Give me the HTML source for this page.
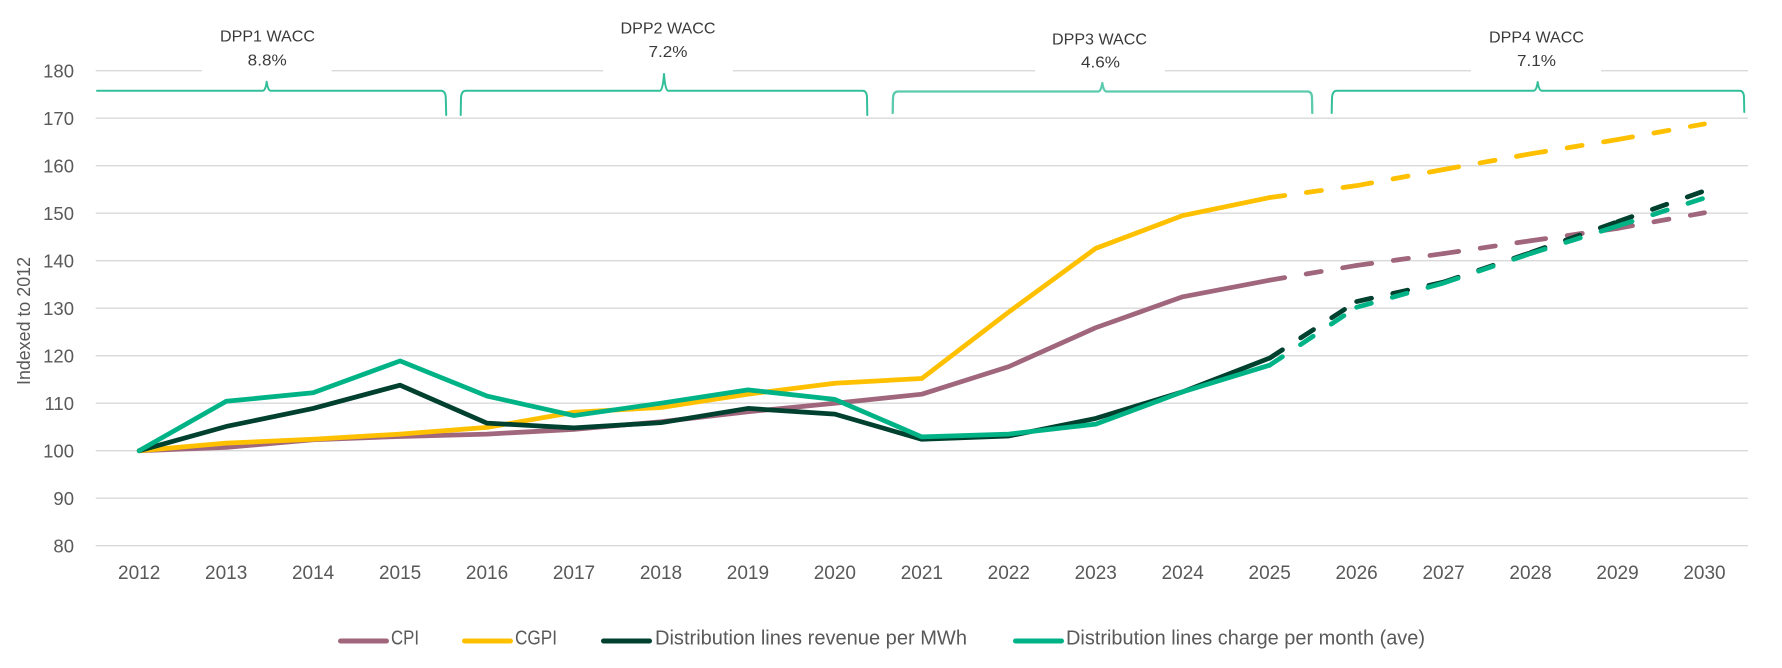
<!DOCTYPE html>
<html>
<head>
<meta charset="utf-8">
<style>
  html, body { margin:0; padding:0; background:#ffffff; }
  svg { display:block; }
  text { font-family: "Liberation Sans", Arial, sans-serif; }
</style>
</head>
<body>
<svg width="1782" height="668" viewBox="0 0 1782 668" xmlns="http://www.w3.org/2000/svg">
  <rect x="0" y="0" width="1782" height="668" fill="#ffffff"/>

  <!-- gridlines -->
  <g stroke="#d9d9d9" stroke-width="1.4" fill="none">
    <line x1="95.7" y1="70.7" x2="1748" y2="70.7"/>
    <line x1="95.7" y1="118.2" x2="1748" y2="118.2"/>
    <line x1="95.7" y1="165.7" x2="1748" y2="165.7"/>
    <line x1="95.7" y1="213.2" x2="1748" y2="213.2"/>
    <line x1="95.7" y1="260.7" x2="1748" y2="260.7"/>
    <line x1="95.7" y1="308.2" x2="1748" y2="308.2"/>
    <line x1="95.7" y1="355.7" x2="1748" y2="355.7"/>
    <line x1="95.7" y1="403.2" x2="1748" y2="403.2"/>
    <line x1="95.7" y1="450.7" x2="1748" y2="450.7"/>
    <line x1="95.7" y1="498.2" x2="1748" y2="498.2"/>
    <line x1="95.7" y1="545.7" x2="1748" y2="545.7"/>
  </g>

  <!-- y labels -->
  <g fill="#595959" font-size="18.5" text-anchor="end">
    <text x="74" y="77.3">180</text>
    <text x="74" y="124.8">170</text>
    <text x="74" y="172.3">160</text>
    <text x="74" y="219.8">150</text>
    <text x="74" y="267.3">140</text>
    <text x="74" y="314.8">130</text>
    <text x="74" y="362.3">120</text>
    <text x="74" y="409.8">110</text>
    <text x="74" y="457.3">100</text>
    <text x="74" y="504.8">90</text>
    <text x="74" y="552.3">80</text>
  </g>

  <!-- y axis title -->
  <text transform="translate(30,385) rotate(-90)" fill="#595959" font-size="18.5" textLength="128" lengthAdjust="spacingAndGlyphs">Indexed to 2012</text>

  <!-- x labels -->
  <g fill="#595959" font-size="19" text-anchor="middle">
    <text x="139.2" y="579">2012</text>
    <text x="226.16" y="579">2013</text>
    <text x="313.12" y="579">2014</text>
    <text x="400.08" y="579">2015</text>
    <text x="487.04" y="579">2016</text>
    <text x="574" y="579">2017</text>
    <text x="660.96" y="579">2018</text>
    <text x="747.92" y="579">2019</text>
    <text x="834.88" y="579">2020</text>
    <text x="921.84" y="579">2021</text>
    <text x="1008.8" y="579">2022</text>
    <text x="1095.76" y="579">2023</text>
    <text x="1182.72" y="579">2024</text>
    <text x="1269.68" y="579">2025</text>
    <text x="1356.64" y="579">2026</text>
    <text x="1443.6" y="579">2027</text>
    <text x="1530.56" y="579">2028</text>
    <text x="1617.52" y="579">2029</text>
    <text x="1704.48" y="579">2030</text>
  </g>

  <!-- label boxes over top gridline -->
  <g fill="#ffffff">
    <rect x="201.7" y="64" width="130" height="12"/>
    <rect x="603" y="64" width="130" height="12"/>
    <rect x="1035" y="64" width="130" height="12"/>
    <rect x="1471" y="64" width="130" height="12"/>
  </g>

  <!-- WACC labels -->
  <g fill="#3a3a3a" font-size="16" text-anchor="middle">
    <text x="267.5" y="41.7" textLength="95" lengthAdjust="spacingAndGlyphs">DPP1 WACC</text>
    <text x="267.2" y="65.5" textLength="39" lengthAdjust="spacingAndGlyphs">8.8%</text>
    <text x="668" y="33.3" textLength="95" lengthAdjust="spacingAndGlyphs">DPP2 WACC</text>
    <text x="668" y="57" textLength="39" lengthAdjust="spacingAndGlyphs">7.2%</text>
    <text x="1099.5" y="44.3" textLength="95" lengthAdjust="spacingAndGlyphs">DPP3 WACC</text>
    <text x="1100.5" y="67.5" textLength="39" lengthAdjust="spacingAndGlyphs">4.6%</text>
    <text x="1536.5" y="42.3" textLength="95" lengthAdjust="spacingAndGlyphs">DPP4 WACC</text>
    <text x="1536.5" y="66" textLength="39" lengthAdjust="spacingAndGlyphs">7.1%</text>
  </g>

  <!-- braces -->
  <g stroke="#33bf99" stroke-width="2" fill="none" stroke-linejoin="round" stroke-linecap="round">
    <path d="M 97 90.7 L 262.5 90.7 Q 265.5 90.7 266.7 81.7 Q 267.9 90.7 270.9 90.7 L 441 90.7 Q 445.5 90.7 445.8 98 L 446.2 115"/>
    <path d="M 460.7 115 L 461 98 Q 461.3 90.7 466 90.7 L 659.8 90.7 Q 662.8 90.7 664 74 Q 665.2 90.7 668.2 90.7 L 862.5 90.7 Q 867 90.7 867 98 L 867.3 115"/>
    <path d="M 892.7 113 L 893 98 Q 893.3 91.5 898 91.5 L 1098 91.5 Q 1101 91.5 1102.3 83 Q 1103.6 91.5 1106.6 91.5 L 1307.5 91.5 Q 1312 91.5 1312 98 L 1312.3 113" stroke="#5ccaad" stroke-width="2.3"/>
    <path d="M 1331.7 113 L 1332 98 Q 1332.3 90.7 1337 90.7 L 1533.5 90.7 Q 1536.5 90.7 1537.7 82 Q 1538.9 90.7 1541.9 90.7 L 1739.5 90.7 Q 1744 90.7 1744 98 L 1744.3 112"/>
  </g>

  <!-- data series -->
  <g fill="none" stroke-width="4.75" stroke-linejoin="round" stroke-linecap="round">
    <!-- CPI -->
    <polyline stroke="#a0667c" points="139.2,450.7 226.16,447.38 313.12,439.78 400.08,436.45 487.04,434.08 574,429.33 660.96,421.73 747.92,411.75 834.88,403.2 921.84,394.18 1008.8,366.63 1095.76,327.68 1182.72,296.8 1269.68,280.18"/>
    <!-- CGPI -->
    <polyline stroke="#ffc000" points="139.2,450.7 226.16,443.1 313.12,439.3 400.08,434.08 487.04,427.43 574,412.23 660.96,407.48 747.92,394.18 834.88,383.25 921.84,378.5 1008.8,312 1095.76,248.35 1182.72,215.58 1269.68,197.53"/>
    <!-- Dist revenue -->
    <polyline stroke="#00402f" points="139.2,450.7 226.16,426.48 313.12,408.43 400.08,385.15 487.04,423.15 574,427.9 660.96,422.68 747.92,408.43 834.88,414.13 921.84,439.3 1008.8,435.98 1095.76,418.4 1182.72,391.8 1269.68,358.08"/>
    <!-- Dist charge -->
    <polyline stroke="#00b386" points="139.2,450.7 226.16,401.3 313.12,392.75 400.08,360.93 487.04,396.08 574,415.55 660.96,403.2 747.92,389.9 834.88,399.4 921.84,436.93 1008.8,434.08 1095.76,424.1 1182.72,391.8 1269.68,365.2"/>

    <!-- dashed forecasts (pattern restarts at each point) -->
    <g stroke-dasharray="15.25 21.75">
      <g stroke="#a0667c">
        <line x1="1269.68" y1="280.18" x2="1356.64" y2="265.45"/>
        <line x1="1356.64" y1="265.45" x2="1443.6" y2="253.58"/>
        <line x1="1443.6" y1="253.58" x2="1530.56" y2="240.75"/>
        <line x1="1530.56" y1="240.75" x2="1617.52" y2="228.4"/>
        <line x1="1617.52" y1="228.4" x2="1704.48" y2="212.73"/>
      </g>
      <g stroke="#ffc000">
        <line x1="1269.68" y1="197.53" x2="1356.64" y2="185.65"/>
        <line x1="1356.64" y1="185.65" x2="1443.6" y2="169.5"/>
        <line x1="1443.6" y1="169.5" x2="1530.56" y2="153.83"/>
        <line x1="1530.56" y1="153.83" x2="1617.52" y2="139.58"/>
        <line x1="1617.52" y1="139.58" x2="1704.48" y2="123.9"/>
      </g>
      <g stroke="#00402f">
        <line x1="1269.68" y1="358.08" x2="1356.64" y2="301.55"/>
        <line x1="1356.64" y1="301.55" x2="1443.6" y2="282.08"/>
        <line x1="1443.6" y1="282.08" x2="1530.56" y2="252.63"/>
        <line x1="1530.56" y1="252.63" x2="1617.52" y2="221.75"/>
        <line x1="1617.52" y1="221.75" x2="1704.48" y2="190.88"/>
      </g>
      <g stroke="#00b386">
        <line x1="1269.68" y1="365.2" x2="1356.64" y2="307.25"/>
        <line x1="1356.64" y1="307.25" x2="1443.6" y2="283.03"/>
        <line x1="1443.6" y1="283.03" x2="1530.56" y2="253.58"/>
        <line x1="1530.56" y1="253.58" x2="1617.52" y2="226.03"/>
        <line x1="1617.52" y1="226.03" x2="1704.48" y2="198"/>
      </g>
    </g>
  </g>

  <!-- legend -->
  <g stroke-width="5" stroke-linecap="round">
    <line x1="340.5" y1="641" x2="386.5" y2="641" stroke="#a0667c"/>
    <line x1="464.5" y1="641" x2="510.5" y2="641" stroke="#ffc000"/>
    <line x1="603.5" y1="641" x2="649.5" y2="641" stroke="#00402f"/>
    <line x1="1015.5" y1="641" x2="1061.5" y2="641" stroke="#00b386"/>
  </g>
  <g fill="#595959" font-size="20">
    <text x="391" y="644.3" textLength="28" lengthAdjust="spacingAndGlyphs">CPI</text>
    <text x="515" y="644.3" textLength="42" lengthAdjust="spacingAndGlyphs">CGPI</text>
    <text x="655" y="644.3" textLength="312" lengthAdjust="spacingAndGlyphs">Distribution lines revenue per MWh</text>
    <text x="1066" y="644.3" textLength="359" lengthAdjust="spacingAndGlyphs">Distribution lines charge per month (ave)</text>
  </g>
</svg>
</body>
</html>
